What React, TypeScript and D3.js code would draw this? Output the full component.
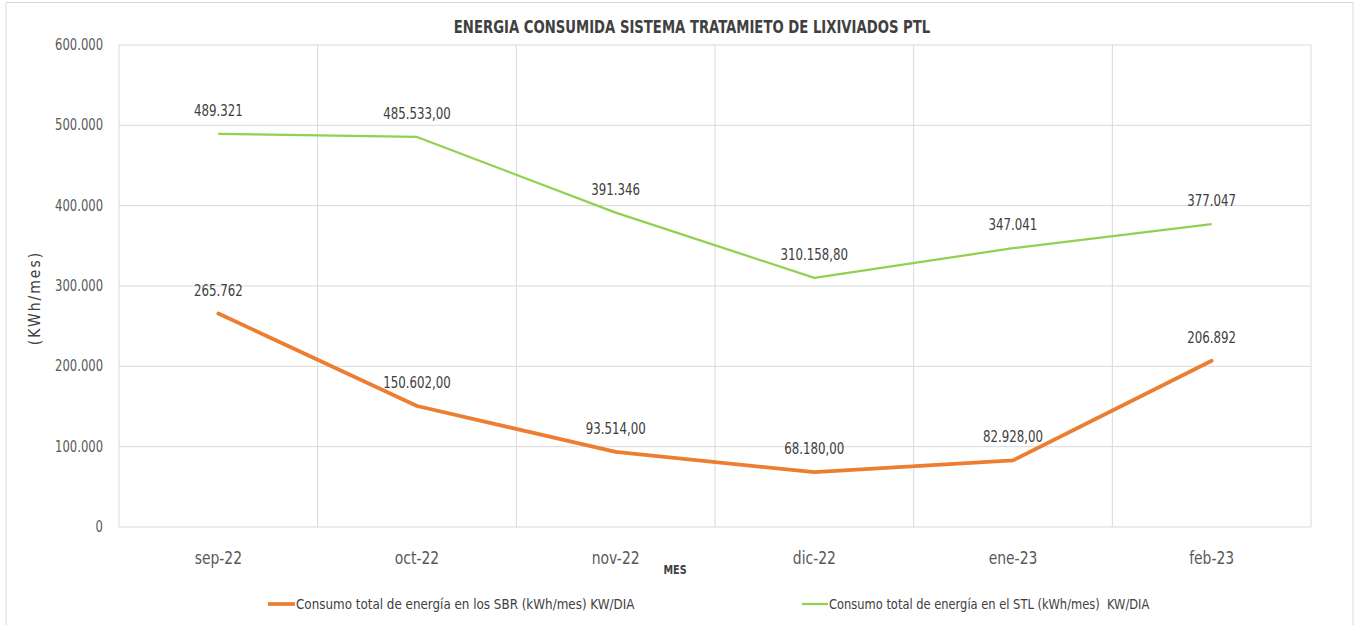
import React from "react";
import * as d3 from "d3";

const categories = ["sep-22", "oct-22", "nov-22", "dic-22", "ene-23", "feb-23"];
const sbrValues = [265762, 150602, 93514, 68180, 82928, 206892];
const sbrLabels = ["265.762", "150.602,00", "93.514,00", "68.180,00", "82.928,00", "206.892"];
const stlValues = [489321, 485533, 391346, 310158.8, 347041, 377047];
const stlLabels = ["489.321", "485.533,00", "391.346", "310.158,80", "347.041", "377.047"];
const yTicks = [0, 100000, 200000, 300000, 400000, 500000, 600000];
const yTickLabels = ["0", "100.000", "200.000", "300.000", "400.000", "500.000", "600.000"];
const seriesNames = [
  "Consumo total de energía en los SBR (kWh/mes) KW/DIA",
  "Consumo total de energía en el STL (kWh/mes)  KW/DIA",
];

const W = 1360;
const H = 625;
const left = 119;
const right = 1311;
const top = 45;
const bottom = 527;
const FONT = "'Liberation Sans Narrow', 'DejaVu Sans Condensed', 'Open Sans', sans-serif";

function T(props: {
  x: number;
  y: number;
  sx?: number;
  anchor?: string;
  size: number;
  weight?: string;
  fill?: string;
  children: React.ReactNode;
}) {
  const { x, y, sx = 0.86, anchor = "middle", size, weight, fill = "#404040", children } = props;
  return (
    <text
      transform={`translate(${x},${y}) scale(${sx},1)`}
      textAnchor={anchor}
      fontSize={size}
      fontWeight={weight}
      fill={fill}
      style={{ whiteSpace: "pre" }}
    >
      {children}
    </text>
  );
}

export default function App() {
  const x = d3.scaleBand<string>().domain(categories).range([left, right]).padding(0);
  const y = d3.scaleLinear().domain([0, 600000]).range([bottom, top]);
  const cx = (c: string) => (x(c) as number) + x.bandwidth() / 2;
  const line = d3
    .line<number>()
    .x((_, i) => cx(categories[i]))
    .y((d) => y(d));

  const gridV = categories.map((c) => x(c) as number).concat([right]);

  return (
    <svg
      width={W}
      height={H}
      style={{ position: "absolute", left: 0, top: 0, background: "#fff" }}
      fontFamily={FONT}
    >
      <rect x={6} y={2.5} width={1347} height={640} fill="#fff" stroke="#d9d9d9" strokeWidth={1} />
      <T x={692} y={33} size={17.5} weight="bold" sx={0.84}>
        ENERGIA CONSUMIDA SISTEMA TRATAMIETO DE LIXIVIADOS PTL
      </T>

      {yTicks.map((t) => (
        <line key={"h" + t} x1={left} x2={right} y1={y(t)} y2={y(t)} stroke="#d9d9d9" strokeWidth={1} />
      ))}
      {gridV.map((gx, i) => (
        <line key={"v" + i} x1={gx} x2={gx} y1={top} y2={bottom} stroke="#d9d9d9" strokeWidth={1} />
      ))}

      {yTicks.map((t, i) => (
        <T key={"yt" + t} x={103} y={y(t) + 5} anchor="end" size={15} fill="#595959">
          {yTickLabels[i]}
        </T>
      ))}
      {categories.map((c) => (
        <T key={"xt" + c} x={cx(c)} y={564} size={18} fill="#595959">
          {c}
        </T>
      ))}

      <text
        transform={`translate(40,298) rotate(-90)`}
        textAnchor="middle"
        fontSize={15.5}
        fill="#404040"
        letterSpacing={2}
      >
        (KWh/mes)
      </text>
      <T x={675} y={574} size={12.5} weight="bold">
        MES
      </T>

      <path d={line(stlValues) || ""} fill="none" stroke="#92D050" strokeWidth={2.25} strokeLinejoin="round" />
      <path d={line(sbrValues) || ""} fill="none" stroke="#ED7D31" strokeWidth={3.75} strokeLinejoin="round" strokeLinecap="round" />

      {stlValues.map((v, i) => (
        <T key={"sl" + i} x={cx(categories[i])} y={y(v) - 18} size={15} sx={0.875}>
          {stlLabels[i]}
        </T>
      ))}
      {sbrValues.map((v, i) => (
        <T key={"bl" + i} x={cx(categories[i])} y={y(v) - 18} size={15} sx={0.875}>
          {sbrLabels[i]}
        </T>
      ))}

      <line x1={268} x2={295} y1={604} y2={604} stroke="#ED7D31" strokeWidth={3.75} />
      <T x={296} y={608.5} anchor="start" size={13.5} sx={0.985}>
        {seriesNames[0]}
      </T>
      <line x1={802} x2={828} y1={604} y2={604} stroke="#92D050" strokeWidth={2.25} />
      <T x={829} y={608.5} anchor="start" size={13.5} sx={0.945}>
        {seriesNames[1]}
      </T>
    </svg>
  );
}
